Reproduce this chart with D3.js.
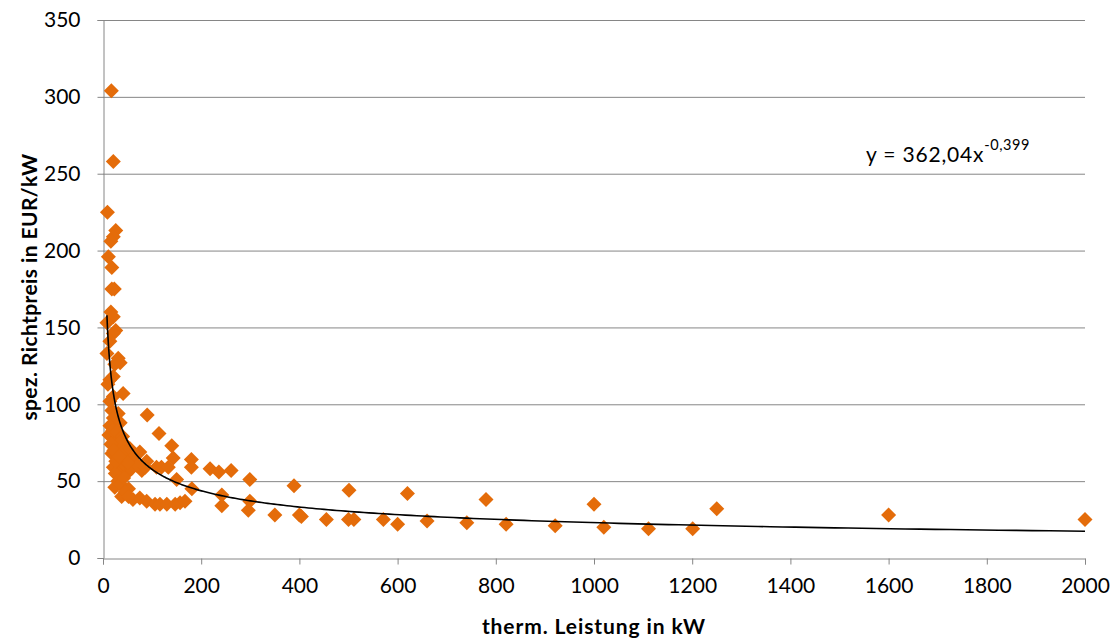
<!DOCTYPE html>
<html><head><meta charset="utf-8">
<script src="https://cdn.jsdelivr.net/npm/d3@7"></script>
<style>body{margin:0;background:#fff}svg text{font-family:Lato,"Open Sans",sans-serif}</style>
</head><body>
<svg id="c" width="1114" height="640"></svg>
<script>
const xTicks=[0,200,400,600,800,1000,1200,1400,1600,1800,2000];
const yTicks=[0,50,100,150,200,250,300,350];
const leistung=[17,21,9,26,21,16,11,18,23,18,16,21,8,26,21,14,8,31,24,35,21,14,10,41,21,14,18,31,21,35,
14,12,24,31,18,28,52,65,79,21,35,48,24,52,38,20,28,40,45,34,16,22,40,55,60,30,44,25,30,36,42,58,70,50,26,33,
61,75,89,106,116,130,147,157,167,45,52,
90,114,140,143,180,180,218,236,261,150,181,75,89,86,109,119,133,242,242,299,299,296,350,389,400,404,
455,501,500,511,571,600,620,660,741,780,821,921,1000,1020,1111,1201,1250,1600,2000];
const preis=[304,258,225,213,209,206,196,189,175,175,160,157,153,148,146,141,133,130,126,127,118,116,113,107,105,102,96,94,91,88,
86,80,77,72,68,66,67,62,57,59,57,55,46,45,40,83,82,79,74,75,74,70,69,71,65,62,61,55,50,48,52,58,60,62,63,66,
38,39,37,35,35,35,35,36,37,43,40,
93,81,73,65,64,59,58,56,57,51,45,69,63,59,59,59,59,41,34,51,37,31,28,47,28,27,
25,44,25,25,25,22,42,24,23,38,22,21,35,20,19,19,32,28,25];
const fitA=362.04, fitB=-0.399;

const svg=d3.select("#c");
const L=103,R=1085,T=20,B=558;
const x=d3.scaleLinear().domain([0,2000]).range([L,R]);
const y=d3.scaleLinear().domain([0,350]).range([B,T]);
const grid="#868686";

svg.append("g").selectAll("line").data(yTicks.filter(d=>d>0)).join("line")
 .attr("x1",L).attr("x2",R).attr("y1",d=>y(d)+0.5).attr("y2",d=>y(d)+0.5)
 .attr("stroke",grid).attr("stroke-width",1);

const xa=svg.append("g").attr("transform",`translate(0,${B+0.5})`)
 .call(d3.axisBottom(x).tickValues(xTicks).tickSize(6).tickPadding(11).tickFormat(d3.format("d")));
const ya=svg.append("g").attr("transform",`translate(${L+0.5},0)`)
 .call(d3.axisLeft(y).tickValues(yTicks).tickSize(6).tickPadding(17).tickFormat(d3.format("d")));
[xa,ya].forEach(a=>{a.select(".domain").attr("stroke",grid);a.selectAll(".tick line").attr("stroke",grid);
 a.selectAll("text").attr("font-size",21).attr("fill","#000").style("font-family","Lato,sans-serif");});
xa.selectAll("text").attr("dy","0.85em");

const diamond="M0,-7.5L7.5,0L0,7.5L-7.5,0Z";
svg.append("g").selectAll("path").data(leistung.map((d,i)=>[d,preis[i]])).join("path")
 .attr("d",diamond).attr("transform",d=>`translate(${x(d[0])},${y(d[1])})`).attr("fill","#E46C0A");

const xmin=d3.min(leistung);
const fitPts=d3.range(0,301).map(i=>{const v=xmin*Math.pow(2000/xmin,i/300);return [v,fitA*Math.pow(v,fitB)];});
svg.append("path").datum(fitPts).attr("fill","none").attr("stroke","#000").attr("stroke-width",1.6)
 .attr("d",d3.line().x(d=>x(d[0])).y(d=>y(d[1])));

const eq=svg.append("text").attr("x",866).attr("y",162).attr("font-size",21).attr("fill","#000")
 .attr("letter-spacing",0.8);
eq.append("tspan").text("y = 362,04x");
eq.append("tspan").attr("font-size",14.5).attr("dy",-12).attr("letter-spacing",0.6).text("-0,399");

svg.append("text").attr("x",594).attr("y",634).attr("text-anchor","middle").attr("font-size",21)
 .attr("font-weight","bold").attr("letter-spacing",0.9).text("therm. Leistung in kW");
svg.append("text").attr("transform","translate(37,287) rotate(-90)").attr("text-anchor","middle")
 .attr("font-size",21).attr("letter-spacing",0.4).attr("font-weight","bold").text("spez. Richtpreis in EUR/kW");
</script>
</body></html>
